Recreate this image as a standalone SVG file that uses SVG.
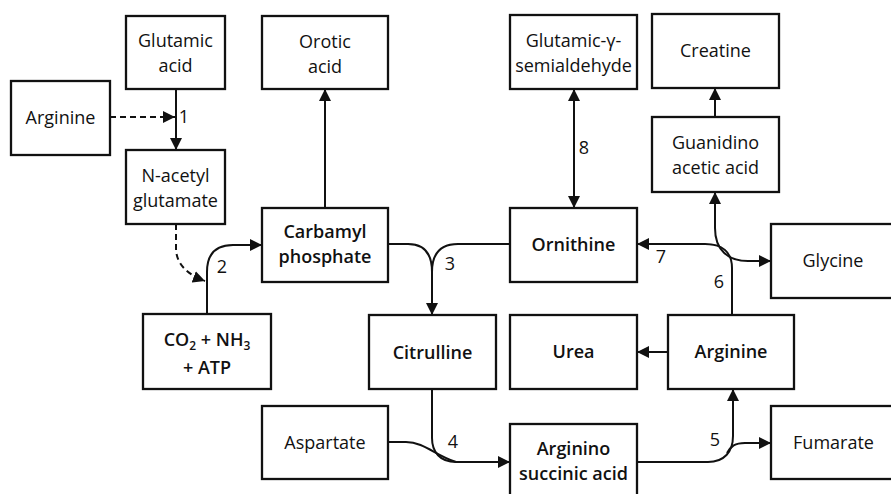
<svg xmlns="http://www.w3.org/2000/svg" width="891" height="494" viewBox="0 0 891 494">
  <style>
    .box { fill: #fff; stroke: #111; stroke-width: 2.3; }
    .t { font-family: "Open Sans", "DejaVu Sans", sans-serif; font-size: 18px; fill: #111; text-anchor: middle; }
    .b { font-weight: 600; }
    .lbl { font-family: "Open Sans", "DejaVu Sans", sans-serif; font-size: 18px; fill: #111; text-anchor: middle; }
    .ln { fill: none; stroke: #111; stroke-width: 2; }
    .dash { stroke-dasharray: 6 4; }
  </style>
  <defs>
    <marker id="arrow" viewBox="0 0 12 12" refX="12" refY="6" markerWidth="12" markerHeight="12" markerUnits="userSpaceOnUse" orient="auto-start-reverse">
      <path d="M0,0 L12,6 L0,12 z" fill="#111"/>
    </marker>
  </defs>
  <rect width="891" height="494" fill="#fff"/>

  <!-- connectors -->
  <g id="connectors">
    <path class="ln" d="M176,89 V150" marker-end="url(#arrow)"/>
    <path class="ln dash" d="M110,117 H175" marker-end="url(#arrow)"/>
    <path class="ln dash" d="M176,224 V248 C176,263 186,274 205,281" marker-end="url(#arrow)"/>
    <path class="ln" d="M207,314 V272 C207,255 215,245 233,245 H262" marker-end="url(#arrow)"/>
    <path class="ln" d="M325,208 V89" marker-end="url(#arrow)"/>
    <path class="ln" d="M388,244 H408 C424,244 432,254 432,272 V315" marker-end="url(#arrow)"/>
    <path class="ln" d="M510,244 H458 C440,244 432,254 432,272"/>
    <path class="ln" d="M432,389 V438 C432,452 440,462 456,462 H510" marker-end="url(#arrow)"/>
    <path class="ln" d="M388,442 H406 C424,442 436,456 456,462"/>
    <path class="ln" d="M637,462 H708 C724,462 733,452 733,436 V389" marker-end="url(#arrow)"/>
    <path class="ln" d="M727,453 C731,446 735,443 745,443 H771" marker-end="url(#arrow)"/>
    <path class="ln" d="M732,315 V268 C732,252 722,244 705,244 H637" marker-end="url(#arrow)"/>
    <path class="ln" d="M715,192 V228 C715,250 728,261 748,261 H771" marker-start="url(#arrow)" marker-end="url(#arrow)"/>
    <path class="ln" d="M715,117 V88" marker-end="url(#arrow)"/>
    <path class="ln" d="M574,89 V208" marker-start="url(#arrow)" marker-end="url(#arrow)"/>
    <path class="ln" d="M668,352 H637" marker-end="url(#arrow)"/>
    <text class="lbl" x="184" y="123">1</text>
    <text class="lbl" x="222" y="273">2</text>
    <text class="lbl" x="450" y="270">3</text>
    <text class="lbl" x="453" y="448">4</text>
    <text class="lbl" x="715" y="446">5</text>
    <text class="lbl" x="719" y="288">6</text>
    <text class="lbl" x="661" y="263">7</text>
    <text class="lbl" x="584" y="154">8</text>
  </g>

  <!-- nodes -->
  <g id="glutamic-acid">
    <rect class="box" x="126" y="16" width="99" height="73"/>
    <text class="t" x="175.5" y="47">Glutamic</text>
    <text class="t" x="175.5" y="72">acid</text>
  </g>
  <g id="arginine-left">
    <rect class="box" x="11" y="81" width="99" height="74"/>
    <text class="t" x="60.5" y="124">Arginine</text>
  </g>
  <g id="n-acetyl-glutamate">
    <rect class="box" x="126" y="150" width="99" height="74"/>
    <text class="t" x="175.5" y="182">N-acetyl</text>
    <text class="t" x="175.5" y="207">glutamate</text>
  </g>
  <g id="co2-nh3-atp">
    <rect class="box" x="143" y="314" width="128" height="75"/>
    <text class="t b" x="207" y="346">CO<tspan font-size="12" dy="4">2</tspan><tspan dy="-4"> + NH</tspan><tspan font-size="12" dy="4">3</tspan></text>
    <text class="t b" x="207" y="374">+ ATP</text>
  </g>
  <g id="orotic-acid">
    <rect class="box" x="262" y="16" width="126" height="73"/>
    <text class="t" x="325" y="48">Orotic</text>
    <text class="t" x="325" y="72.5">acid</text>
  </g>
  <g id="carbamyl-phosphate">
    <rect class="box" x="262" y="208" width="126" height="74"/>
    <text class="t b" x="325" y="238">Carbamyl</text>
    <text class="t b" x="325" y="263">phosphate</text>
  </g>
  <g id="aspartate">
    <rect class="box" x="262" y="406" width="126" height="73"/>
    <text class="t" x="325" y="449">Aspartate</text>
  </g>
  <g id="citrulline">
    <rect class="box" x="369" y="315" width="127" height="74"/>
    <text class="t b" x="432.5" y="359">Citrulline</text>
  </g>
  <g id="glutamic-semialdehyde">
    <rect class="box" x="510" y="15" width="127" height="74"/>
    <text class="t" x="573.5" y="47">Glutamic-γ-</text>
    <text class="t" x="573.5" y="72">semialdehyde</text>
  </g>
  <g id="ornithine">
    <rect class="box" x="510" y="208" width="127" height="74"/>
    <text class="t b" x="573.5" y="251">Ornithine</text>
  </g>
  <g id="urea">
    <rect class="box" x="510" y="315" width="127" height="74"/>
    <text class="t b" x="573.5" y="358">Urea</text>
  </g>
  <g id="arginino-succinic-acid">
    <rect class="box" x="510" y="424" width="127" height="80"/>
    <text class="t b" x="573.5" y="455">Arginino</text>
    <text class="t b" x="573.5" y="480">succinic acid</text>
  </g>
  <g id="creatine">
    <rect class="box" x="652" y="14" width="127" height="74"/>
    <text class="t" x="715.5" y="57">Creatine</text>
  </g>
  <g id="guanidino-acetic-acid">
    <rect class="box" x="652" y="117" width="127" height="75"/>
    <text class="t" x="715.5" y="149">Guanidino</text>
    <text class="t" x="715.5" y="174">acetic acid</text>
  </g>
  <g id="arginine-right">
    <rect class="box" x="668" y="315" width="126" height="74"/>
    <text class="t b" x="731" y="358">Arginine</text>
  </g>
  <g id="glycine">
    <rect class="box" x="771" y="224" width="127" height="74"/>
    <text class="t" x="833" y="267">Glycine</text>
  </g>
  <g id="fumarate">
    <rect class="box" x="771" y="406" width="127" height="73"/>
    <text class="t" x="833.5" y="449">Fumarate</text>
  </g>
</svg>
